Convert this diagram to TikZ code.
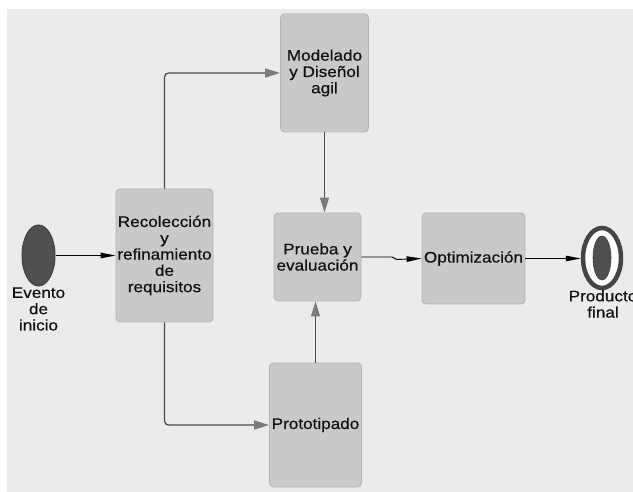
\documentclass[tikz,border=0pt]{standalone}
\usepackage{fontspec}
\setmainfont{Liberation Sans}[FakeStretch=1.12,FakeBold=0.6]
\usetikzlibrary{arrows.meta,shapes.geometric}
\definecolor{bg}{HTML}{EBEBEB}
\definecolor{boxfill}{HTML}{C9C9C9}
\definecolor{boxdraw}{HTML}{B4B4B4}
\definecolor{linec}{HTML}{4A4A4A}
\definecolor{headg}{HTML}{7A7A7A}
\definecolor{evt}{HTML}{505050}
\definecolor{txt}{HTML}{111111}
\begin{document}
\begin{tikzpicture}[x=1pt,y=-1pt,
  every node/.style={font=\fontsize{15.3}{16.3}\selectfont, text=txt},
  stepbox/.style={draw=boxdraw, fill=boxfill, rounded corners=4pt, line width=0.8pt,
    align=center, inner sep=0pt},
  lbl/.style={align=center, inner sep=0pt},
  garrow/.style={draw=linec, line width=1.3pt, rounded corners=4pt,
    -{Triangle[width=9pt,length=15pt,fill=headg,color=headg]}},
  barrow/.style={draw=black, line width=0.9pt,
    -{Triangle[width=5.5pt,length=15pt,fill=black]}}]
\useasboundingbox (0,0) rectangle (633,492);
\fill[bg] (7,9) rectangle (633,492);

% nodes
\node[ellipse, draw=evt!80!black, fill=evt, line width=1pt, minimum width=33pt, minimum height=61pt, inner sep=0pt] (start) at (38.5,255.5) {};
\node[lbl] (startlbl) at (38.5,309) {Evento\\de\\inicio};

\node[stepbox, minimum width=97pt, minimum height=133pt] (rec) at (164.5,255.5) {Recolección\\y\\refinamiento\\de\\requisitos};
\node[stepbox, minimum width=88pt, minimum height=118pt] (mod) at (324.5,73) {Modelado\\y Diseñol\\agil};
\node[stepbox, minimum width=87pt, minimum height=88pt] (prb) at (317.5,257) {Prueba y\\evaluación};
\node[stepbox, minimum width=103pt, minimum height=91pt] (opt) at (473.5,258.5) {Optimización};
\node[stepbox, minimum width=92pt, minimum height=124pt] (pro) at (315.5,425) {Prototipado};

\node[ellipse, draw=evt!85!black, fill=white, line width=4.5pt, minimum width=38pt, minimum height=60pt, inner sep=0pt] (fin) at (602,258) {};
\node[ellipse, fill=evt, draw=evt!80!black, line width=0.6pt, minimum width=18pt, minimum height=44pt, inner sep=0pt] (fincore) at (602,258) {};
\node[lbl] (finlbl) at (603,304) {Producto\\final};

% connectors
\draw[barrow] (start.east) -- (rec.west);
\draw[garrow] (rec.north) |- (mod.west);
\draw[garrow] (rec.south) |- (pro.west);
\draw[garrow] (mod.south) -- (mod.south |- prb.north);
\draw[garrow] (pro.north) -- (pro.north |- prb.south);
\coordinate (j1) at (392,257);
\coordinate (j2) at (397,259.5);
\draw[barrow] (prb.east) -- (j1) -- (j2) -- (opt.west);
\draw[barrow] (opt.east) -- (opt.east -| fin.west);
\end{tikzpicture}
\end{document}
